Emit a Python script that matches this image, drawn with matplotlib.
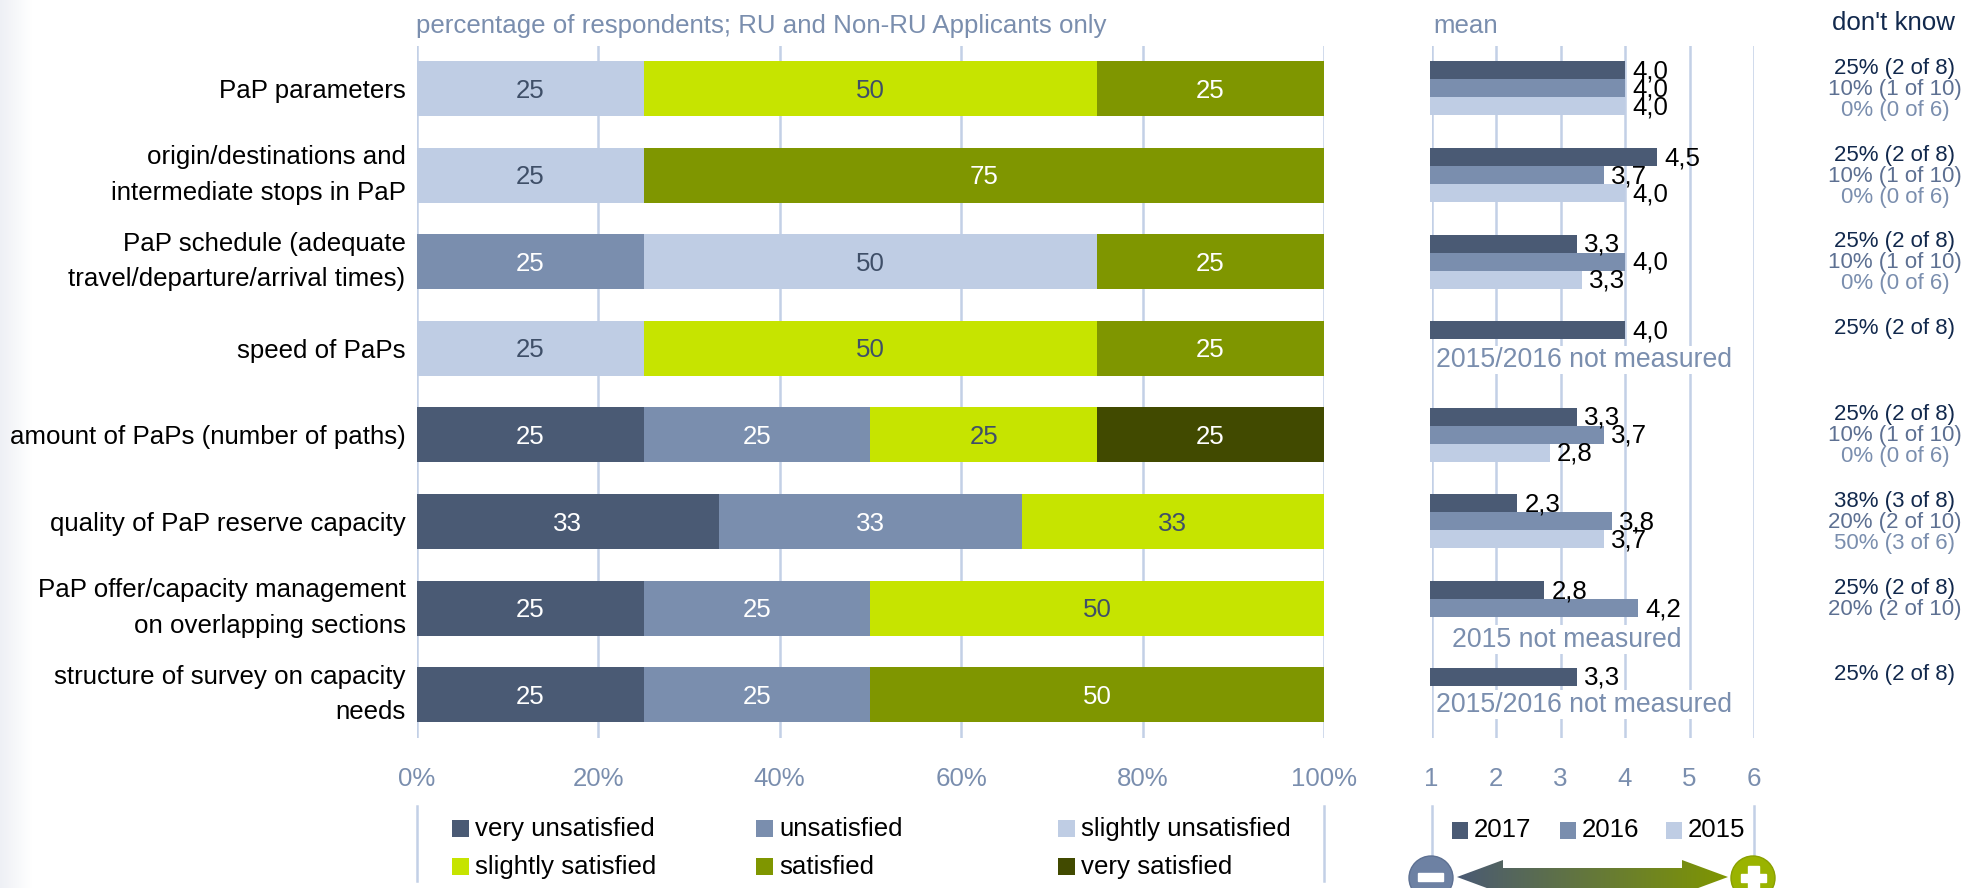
import matplotlib
matplotlib.use('Agg')
import matplotlib.pyplot as plt
from matplotlib.colors import LinearSegmentedColormap
from matplotlib.patches import Polygon, Circle, Rectangle
import numpy as np

categories = ['PaP parameters',
              'origin/destinations and\nintermediate stops in PaP',
              'PaP schedule (adequate\ntravel/departure/arrival times)',
              'speed of PaPs',
              'amount of PaPs (number of paths)',
              'quality of PaP reserve capacity',
              'PaP offer/capacity management\non overlapping sections',
              'structure of survey on capacity\nneeds']

# satisfaction shares in percent
levels = ['very unsatisfied', 'unsatisfied', 'slightly unsatisfied',
          'slightly satisfied', 'satisfied', 'very satisfied']
very_unsat = [0, 0, 0, 0, 25, 33.33, 25, 25]
unsat = [0, 0, 25, 0, 25, 33.33, 25, 25]
slightly_unsat = [25, 25, 50, 25, 0, 0, 0, 0]
slightly_sat = [50, 0, 0, 50, 25, 33.34, 50, 0]
sat = [25, 75, 25, 25, 0, 0, 0, 50]
very_sat = [0, 0, 0, 0, 25, 0, 0, 0]
shares = [very_unsat, unsat, slightly_unsat, slightly_sat, sat, very_sat]

# means
years = ['2017', '2016', '2015']
mean_2017 = [4.0, 4.5, 3.25, 4.0, 3.25, 2.33, 2.75, 3.25]
mean_2016 = [4.0, 3.67, 4.0, None, 3.67, 3.8, 4.2, None]
mean_2015 = [4.0, 4.0, 3.33, None, 2.83, 3.67, None, None]
means = [mean_2017, mean_2016, mean_2015]
# row: (text, centre on the 1-6 scale, offset from row centre)
not_measured = {3: ('2015/2016 not measured', 3.36, 0.135),
                6: ('2015 not measured', 3.1, 0.365),
                7: ('2015/2016 not measured', 3.36, 0.115)}

dk_2017 = ['25% (2 of 8)', '25% (2 of 8)', '25% (2 of 8)', '25% (2 of 8)',
           '25% (2 of 8)', '38% (3 of 8)', '25% (2 of 8)', '25% (2 of 8)']
dk_2016 = ['10% (1 of 10)', '10% (1 of 10)', '10% (1 of 10)', '', '10% (1 of 10)',
           '20% (2 of 10)', '20% (2 of 10)', '']
dk_2015 = ['0% (0 of 6)', '0% (0 of 6)', '0% (0 of 6)', '', '0% (0 of 6)',
           '50% (3 of 6)', '', '']

# Graph parameters
W, H = 1962, 888
plt.rcParams['font.family'] = ['Liberation Sans', 'DejaVu Sans']
font_size = 18.6
dk_size = 16
c_dark = '#4a5a74'
c_mid = '#7a8eae'
c_light = '#bfcde4'
c_lime = '#c6e400'
c_olive = '#7f9600'
c_deep = '#414a00'
c_grid = '#c3d0e6'
c_navy = '#12294d'
level_colors = [c_dark, c_mid, c_light, c_lime, c_olive, c_deep]
label_colors = ['white', 'white', '#3f4f68', '#3f4f68', 'white', 'white']
year_colors = [c_dark, c_mid, c_light]


def make_axes(x0, y0, x1, y1):
    # pixel box, y measured from top
    return fig.add_axes([x0 / W, 1 - y1 / H, (x1 - x0) / W, (y1 - y0) / H])


def style(ax):
    for s in ax.spines.values():
        s.set_visible(False)
    ax.tick_params(length=0)
    ax.set_axisbelow(True)
    ax.grid(axis='x', color=c_grid, linewidth=1.8)
    ax.grid(axis='y', visible=False)


fig = plt.figure(figsize=(W / 100, H / 100), dpi=100)

# page layer in pixel coordinates
bg = make_axes(0, 0, W, H)
bg.axis('off')
edge = LinearSegmentedColormap.from_list('edge', ['#eef0f5', '#ffffff'])
bg.imshow(np.linspace(0, 1, 64).reshape(1, -1), extent=[0, 32, H, 0], cmap=edge, aspect='auto')

# stacked bars
top, bottom = 46, 738
pitch = 86.6
y0_center = 88.5
ylim = ((bottom - y0_center) / pitch, (top - y0_center) / pitch)
y = np.arange(len(categories))

ax1 = make_axes(416.7, top, 1324, bottom)
style(ax1)
left = np.zeros(len(categories))
for vals, col, lab_col in zip(shares, level_colors, label_colors):
    vals = np.array(vals, dtype=float)
    ax1.barh(y, vals, left=left, height=55 / pitch, color=col, linewidth=0)
    for i, v in enumerate(vals):
        if v > 0:
            ax1.text(left[i] + v / 2, i + 0.025, '%d' % round(v), ha='center', va='center',
                     color=lab_col, fontsize=font_size)
    left += vals
ax1.set_xlim(0, 100)
ax1.set_ylim(*ylim)
ax1.set_xticks(range(0, 101, 20))
ax1.set_xticklabels(['%d%%' % t for t in range(0, 101, 20)], color=c_mid, fontsize=font_size)
ax1.tick_params(axis='x', pad=21)
ax1.set_yticks(y)
ax1.set_yticklabels(categories, fontsize=font_size, ha='right', linespacing=1.6)
for lab in ax1.get_yticklabels():
    lab.set_va('center' if '\n' in lab.get_text() else 'center_baseline')
ax1.tick_params(axis='y', pad=8)

# mean bars
ax2 = make_axes(1431.5, top, 1754, bottom)
style(ax2)
bar_h = 18 / pitch
for k, (vals, col) in enumerate(zip(means, year_colors)):
    for i, v in enumerate(vals):
        if v is None:
            continue
        ax2.barh(i + (k - 1) * bar_h, v - 0.97, left=0.97, height=bar_h, color=col, linewidth=0,
                 clip_on=False)
        ax2.text(v + 0.11, i + (k - 1) * bar_h + 0.012, ('%.1f' % (int(v * 10 + 0.5) / 10)).replace('.', ','),
                 va='center', ha='left', fontsize=font_size, color='black')
for i, (txt, xc, dy) in not_measured.items():
    ax2.text(xc, i + dy, txt, ha='center', va='center', color=c_mid, fontsize=19.2,
             bbox=dict(facecolor='white', edgecolor='none', pad=1))
ax2.set_xlim(1, 6)
ax2.set_ylim(*ylim)
ax2.set_xticks(range(1, 7))
ax2.set_xticklabels(range(1, 7), color=c_mid, fontsize=font_size)
ax2.tick_params(axis='x', pad=21)
ax2.set_yticks([])

# headers
bg.set_xlim(0, W)
bg.set_ylim(H, 0)
bg.text(416, 26, 'percentage of respondents; RU and Non-RU Applicants only', color=c_mid,
        fontsize=font_size, va='center', ha='left', zorder=5)
bg.text(1433, 26, 'mean', color=c_mid, fontsize=font_size, va='center', zorder=5)
bg.text(1893, 23, "don't know", color=c_navy, fontsize=font_size, va='center', ha='center', zorder=5)

# don't know columns
for i in range(len(categories)):
    cy = y0_center + pitch * i
    bg.text(1895, cy - 20, dk_2017[i], color=c_navy, fontsize=dk_size, ha='center', va='center')
    bg.text(1895, cy + 1, dk_2016[i], color='#5d7092', fontsize=dk_size, ha='center', va='center')
    bg.text(1895, cy + 22, dk_2015[i], color=c_mid, fontsize=dk_size, ha='center', va='center')

# legend separators
for xs in [417, 1324, 1432, 1754]:
    bg.plot([xs, xs], [806, 881], color=c_grid, linewidth=1.8)

# satisfaction legend
leg_x = [452, 756, 1058]
leg_y = [829, 867]
for k, name in enumerate(levels):
    lx = leg_x[k % 3]
    ly = leg_y[k // 3]
    bg.add_patch(Rectangle((lx, ly - 9), 17, 17, color=level_colors[k], linewidth=0))
    bg.text(lx + 23, ly, name, fontsize=font_size, va='center', ha='left')

# year legend
for xs, name, col in zip([1452, 1560, 1666], years, year_colors):
    bg.add_patch(Rectangle((xs, 822), 16, 17, color=col, linewidth=0))
    bg.text(xs + 22, 830, name, fontsize=font_size, va='center', ha='left')

# scale arrow with gradient
arrow = Polygon([(1457, 877), (1503, 860), (1503, 868), (1682, 868), (1682, 860), (1728, 877),
                 (1682, 894), (1503, 894)], closed=True, transform=bg.transData, facecolor='none',
                edgecolor='none')
bg.add_patch(arrow)
grad = LinearSegmentedColormap.from_list('arrow', [c_dark, c_olive])
img = bg.imshow(np.linspace(0, 1, 256).reshape(1, -1), extent=[1457, 1728, 894, 860], cmap=grad,
                aspect='auto', zorder=2)
img.set_clip_path(arrow)
bg.set_xlim(0, W)
bg.set_ylim(H, 0)

bg.add_patch(Circle((1431, 878), 22, facecolor='#6d81a3', edgecolor='#5d7092', zorder=3))
bg.add_patch(Rectangle((1418, 873), 25, 8, color='white', zorder=4))
bg.add_patch(Circle((1753, 878), 22, facecolor='#9ab300', edgecolor='#8aa000', zorder=3))
bg.add_patch(Rectangle((1741, 874), 25, 8, color='white', zorder=4))
bg.add_patch(Rectangle((1748, 866), 11, 26, color='white', zorder=4))

fig.savefig('out.png', dpi=100)
plt.close()
